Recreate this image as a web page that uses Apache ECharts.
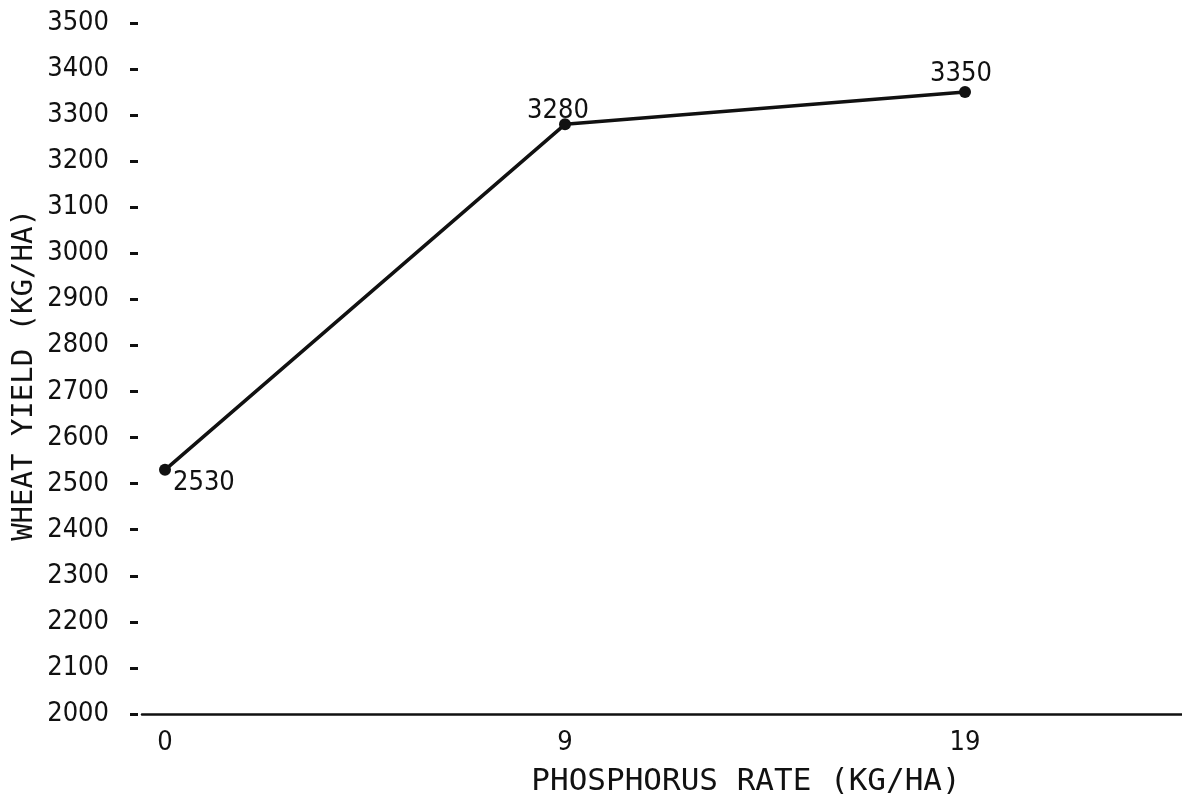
<!DOCTYPE html>
<html>
<head>
<meta charset="utf-8">
<script src="https://cdn.jsdelivr.net/npm/echarts@6/dist/echarts.min.js"></script>
<style>
  html, body { margin: 0; padding: 0; background: #fff; }
  #chart { width: 1182px; height: 806px; }
</style>
</head>
<body>
<div id="chart"></div>
<script>
// Phosphorus rates (kg/ha) shown as evenly spaced categories
const rates = ['0', '9', '19'];
// Wheat yield (kg/ha) at each rate
const yields = [2530, 3280, 3350];
// Y axis range and step
const yMin = 2000, yMax = 3500, yStep = 100;

const tickFont = "'Liberation Sans Narrow', 'DejaVu Sans Condensed', 'DejaVu Sans Mono', monospace";
const titleFont = "'DejaVu Sans Mono', monospace";

const points = yields.map((v, i) => [i, v]);
// label offsets per point (right-below, above-left, above)
const labelCfg = [
  { position: 'right', distance: 2, offset: [0, 13] },
  { position: 'top', distance: 4, offset: [-7, 10] },
  { position: 'top', distance: 4, offset: [-4, 5] }
];

const chart = echarts.init(document.getElementById('chart'));
chart.setOption({
  animation: false,
  backgroundColor: '#ffffff',
  grid: { left: 142, right: 0, top: 23, bottom: 92, containLabel: false },
  xAxis: {
    type: 'value',
    min: -0.0575,
    max: 2.5425,
    splitLine: { show: false },
    axisLine: { show: true, onZero: false, lineStyle: { color: '#111', width: 2.5 } },
    axisTick: { show: false },
    axisLabel: {
      customValues: rates.map((_, i) => i),
      formatter: v => rates[Math.round(v)],
      color: '#111',
      fontFamily: tickFont,
      fontSize: 27,
      margin: 15
    }
  },
  yAxis: {
    type: 'value',
    min: yMin,
    max: yMax,
    interval: yStep,
    offset: 4,
    splitLine: { show: false },
    axisLine: { show: false, onZero: false },
    axisTick: { show: true, length: 8, lineStyle: { color: '#111', width: 3 } },
    axisLabel: {
      formatter: v => String(v),
      color: '#111',
      fontFamily: tickFont,
      fontSize: 27,
      margin: 29
    }
  },
  series: [{
    type: 'line',
    data: points.map((p, i) => ({
      value: p,
      label: Object.assign({
        show: true,
        formatter: String(yields[i]),
        color: '#111',
        fontFamily: tickFont,
        fontSize: 27
      }, labelCfg[i])
    })),
    symbol: 'circle',
    symbolSize: 12,
    lineStyle: { color: '#111', width: 3.5 },
    itemStyle: { color: '#111' }
  }],
  graphic: [
    {
      type: 'text',
      x: 746, y: 782,
      style: {
        text: 'PHOSPHORUS RATE (KG/HA)',
        font: "31px " + titleFont,
        fill: '#111',
        textAlign: 'center',
        textVerticalAlign: 'middle'
      }
    },
    {
      type: 'text',
      x: 24, y: 375,
      rotation: Math.PI / 2,
      style: {
        text: 'WHEAT YIELD (KG/HA)',
        font: "29px " + titleFont,
        fill: '#111',
        textAlign: 'center',
        textVerticalAlign: 'middle'
      }
    }
  ]
});
</script>
</body>
</html>
